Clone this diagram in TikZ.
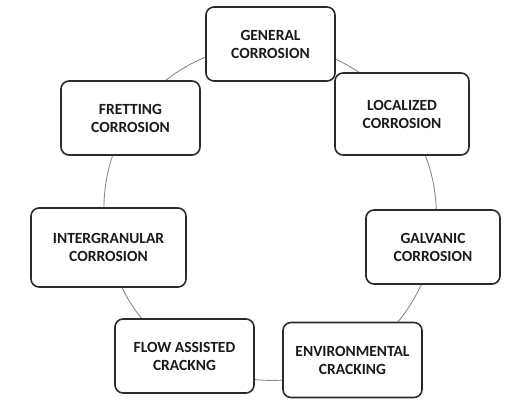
\documentclass[tikz,border=0pt]{standalone}
\usepackage{fontspec}
\setmainfont{Carlito}
\usepackage{tikz}
\usetikzlibrary{positioning, backgrounds}
\definecolor{BoxLine}{HTML}{2A2A2A}
\definecolor{RingGray}{HTML}{8C8C8C}
\definecolor{InkDark}{HTML}{1A1A1A}

\begin{document}
\begin{tikzpicture}[x=1pt, y=-1pt,
    typebox/.style={rectangle, rounded corners=8pt, draw=BoxLine, line width=1.6pt,
                    fill=white, text=InkDark, align=center,
                    font=\fontsize{15.5}{18}\selectfont\bfseries},
    ringarc/.style={draw=RingGray, line width=0.9pt}]
    \useasboundingbox (0,0) rectangle (520,419);

    % Corrosion type boxes
    \foreach \name/\x/\y/\w/\h/\label in {
        gen/270.5/44/129/74/{GENERAL\\CORROSION},
        loc/402/114/134/82/{LOCALIZED\\CORROSION},
        gal/433/247/134/74/{GALVANIC\\CORROSION},
        env/352.5/360/139/75/{ENVIRONMENTAL\\CRACKING},
        flow/184.5/356/139/74/{FLOW ASSISTED\\CRACKNG},
        inter/108.5/247.5/155/79/{INTERGRANULAR\\CORROSION},
        fret/130.5/118/139/74/{FRETTING\\CORROSION}} {
        \node[typebox, minimum width=\w pt, minimum height=\h pt]
            (\name) at (\x, \y) {\label};
    }

    % Ring behind the boxes
    \begin{scope}[on background layer]
        \foreach \a/\b/\bend in {gen/loc/26.3, loc/gal/24.5, gal/env/24.8,
                                 env/flow/30.3, flow/inter/23.6,
                                 inter/fret/22.8, fret/gen/27.9} {
            \draw[ringarc, looseness=0.9] (\a.center) to[bend left=\bend] (\b.center);
        }
    \end{scope}
\end{tikzpicture}
\end{document}
